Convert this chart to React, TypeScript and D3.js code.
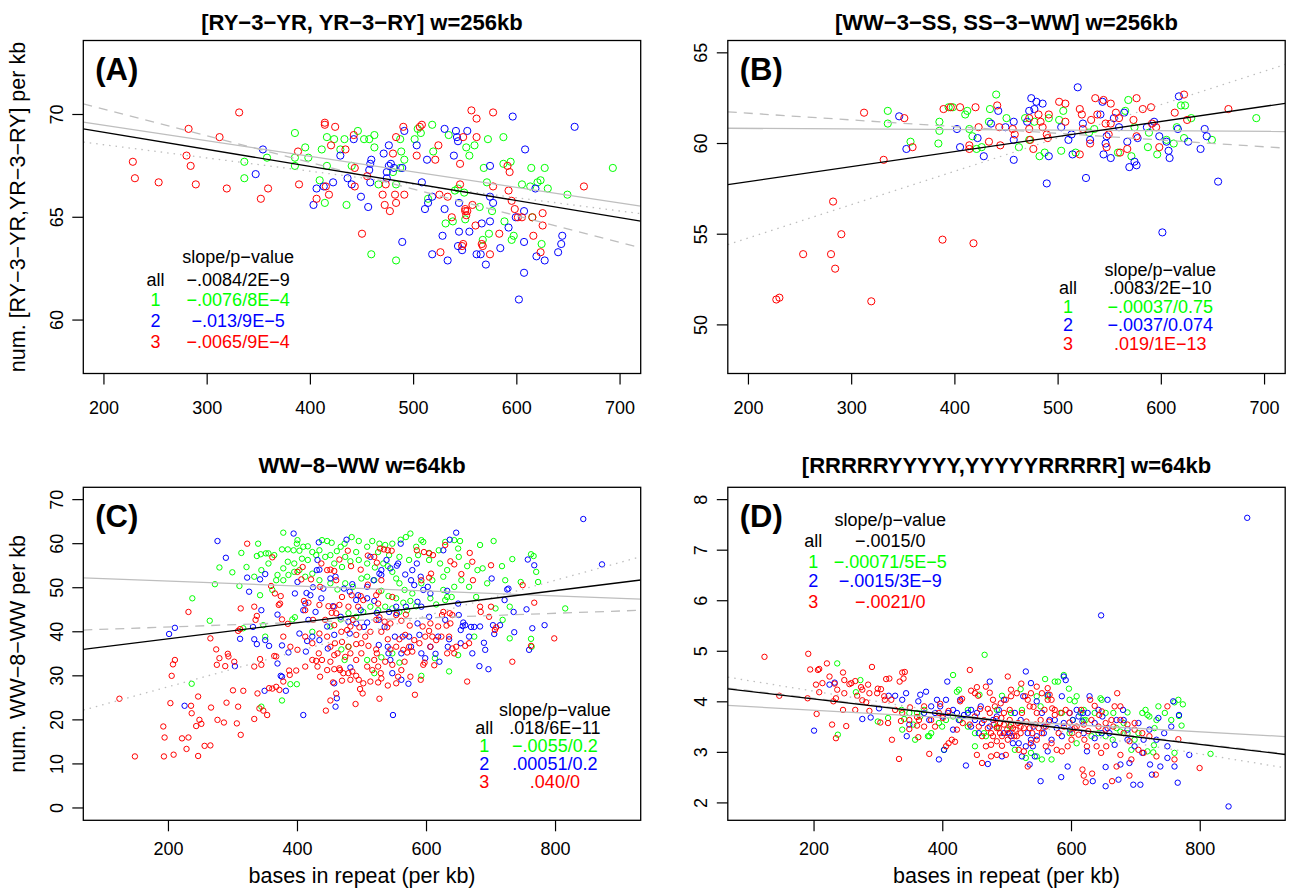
import React from 'react';
import * as d3 from 'd3';

type Pt = [number, number];

const RED = '#FF0000';
const GREEN = '#00FF00';
const BLUE = '#0000FF';
const GRAY = '#BEBEBE';
const FONT = '"Liberation Sans", Arial, Helvetica, sans-serif';

// ---------------- Panel A ----------------
const A_RED: Pt[] = [[228,67.7],[230,66.9],[253,66.7],[282,69.3],[280,68.0],[284,67.5],[289,66.6],[312,68.9],[319,66.4],[331,70.1],[352,65.9],[359,66.4],[389,66.6],[388,68.2],[406,65.9],[414,69.6],[414,69.5],[424,69.4],[420,68.5],[418,66.1],[415,66.5],[434,68.3],[442,69.0],[443,67.4],[455,67.0],[443,66.5],[450,64.2],[470,66.1],[472,65.6],[477,65.3],[482,66.1],[483,65.7],[473,66.6],[483,68.9],[490,69.4],[491,66.1],[480,68.1],[503,68.0],[506,69.4],[508,69.5],[521,67.8],[524,68.5],[526,63.3],[525,66.1],[533,66.0],[537,65.0],[545,67.6],[545,66.6],[548,68.9],[561,68.9],[550,65.4],[550,65.3],[551,65.1],[552,65.3],[557,65.6],[548,63.7],[547,63.6],[556,70.2],[561,69.8],[577,70.1],[577,66.5],[560,64.6],[566,63.7],[567,63.6],[574,63.2],[583,64.2],[591,67.5],[593,67.2],[592,66.3],[595,65.8],[598,65.4],[601,65.0],[605,65.0],[615,65.0],[616,64.1],[625,65.2],[625,64.6],[623,63.3],[665,66.5]];
const A_GREEN: Pt[] = [[336,67.7],[336,66.9],[358,67.9],[385,69.1],[385,67.5],[385,67.9],[395,68.4],[398,67.9],[411,68.3],[409,66.8],[414,65.7],[416,68.9],[416,67.5],[423,68.8],[429,68.3],[433,68.8],[435,65.6],[440,67.5],[446,69.2],[452,68.8],[457,68.8],[462,69.0],[462,68.4],[459,63.2],[466,66.6],[480,67.2],[483,62.9],[487,68.8],[488,68.2],[491,67.8],[487,67.4],[483,66.6],[501,68.8],[504,69.3],[507,69.1],[518,69.5],[519,68.2],[514,65.9],[534,69.0],[540,66.3],[543,66.4],[550,64.9],[549,66.2],[538,64.8],[551,68.4],[554,68.0],[559,68.5],[568,67.4],[571,66.7],[572,68.8],[564,65.5],[576,65.3],[573,64.2],[567,63.9],[587,68.9],[587,67.6],[594,67.7],[588,64.8],[597,64.1],[595,63.9],[605,66.6],[614,67.4],[613,66.5],[620,66.7],[623,66.8],[627,67.4],[630,66.4],[615,65.0],[624,63.7],[649,66.1],[693,67.4],[531,64.7]];
const A_BLUE: Pt[] = [[354,68.3],[347,67.1],[403,65.6],[406,66.4],[413,66.5],[422,66.7],[429,68.0],[436,66.9],[442,68.8],[440,66.6],[449,66.0],[456,65.5],[458,66.7],[459,67.8],[458,67.6],[457,67.3],[471,68.1],[476,68.5],[474,67.2],[476,67.5],[478,67.6],[474,66.9],[481,67.4],[489,67.4],[491,69.2],[489,63.8],[503,68.5],[508,66.7],[513,67.8],[511,65.4],[514,65.7],[518,66.0],[518,63.2],[528,64.1],[530,69.3],[530,65.4],[533,62.9],[539,68.0],[541,69.2],[542,68.9],[543,68.7],[552,69.2],[544,65.7],[544,64.3],[543,63.6],[554,64.3],[547,63.4],[561,63.2],[566,64.7],[565,63.2],[570,62.7],[574,64.8],[574,67.5],[574,66.0],[577,65.7],[584,63.5],[592,64.5],[596,69.9],[599,65.0],[607,65.3],[608,68.3],[607,63.8],[618,66.4],[619,63.1],[627,62.9],[607,62.3],[602,61.0],[640,63.3],[643,63.7],[644,64.1],[656,69.4]];
const A_X_TICKS = [200, 300, 400, 500, 600, 700];
const A_Y_TICKS = [60, 65, 70];
// fitted lines: [slope, intercept]
const A_FIT_ALL: Pt = [-0.0083, 70.79];
const A_FIT_1: Pt = [-0.00756, 70.99];
const A_FIT_2: Pt = [-0.01296, 72.85];
const A_FIT_3: Pt = [-0.00645, 69.82];
const A_LEGEND = ['−.0084/2E−9', '−.0076/8E−4', '−.013/9E−5', '−.0065/9E−4'];
const A_LEGEND_POS = [250, 330, 63.07, 61.94, 60.97, 59.95, 58.95];

// ---------------- Panel B ----------------
const B_RED: Pt[] = [[227,51.4],[230,51.5],[253,53.9],[280,53.9],[284,53.1],[282,56.8],[290,55.0],[319,51.3],[312,61.7],[331,59.1],[351,61.4],[359,59.8],[388,54.7],[418,54.5],[389,61.9],[396,62.0],[405,62.0],[420,62.0],[423,60.9],[414,59.9],[414,59.7],[433,60.1],[441,62.1],[443,60.9],[444,59.9],[456,60.8],[458,60.5],[472,61.4],[472,60.8],[473,60.2],[476,59.7],[481,61.6],[483,61.2],[485,60.9],[490,60.3],[489,60.5],[501,62.3],[507,62.2],[507,61.2],[521,61.9],[523,61.6],[524,60.8],[532,61.3],[536,62.5],[544,62.4],[551,62.2],[546,61.1],[549,60.5],[556,61.7],[559,61.4],[567,59.7],[560,59.5],[573,61.3],[576,62.5],[582,61.9],[576,60.4],[590,62.0],[591,61.1],[595,60.9],[598,59.8],[613,61.7],[622,62.7],[625,61.3],[665,61.9],[538,61.6],[551,61.1],[547,59.8],[531,60.0],[521,59.4],[491,61.6]];
const B_GREEN: Pt[] = [[335,61.8],[335,61.1],[357,60.1],[384,60.0],[385,60.7],[385,61.2],[394,62.0],[398,62.0],[410,61.6],[412,61.8],[414,60.8],[417,60.4],[421,59.7],[426,59.8],[434,61.9],[433,61.2],[440,62.7],[450,61.4],[462,59.8],[468,61.4],[477,61.2],[482,59.3],[491,61.4],[505,61.8],[503,59.6],[501,61.3],[517,59.5],[530,60.6],[535,60.8],[558,59.5],[565,61.8],[568,62.4],[571,59.3],[574,60.9],[587,59.8],[596,59.4],[588,60.6],[605,60.2],[612,60.0],[615,60.9],[619,62.1],[623,62.1],[622,60.3],[629,61.4],[649,60.2],[692,61.4],[487,59.5],[472,60.2]];
const B_BLUE: Pt[] = [[346,61.5],[353,59.7],[402,60.8],[405,59.8],[422,60.3],[428,59.3],[435,61.1],[442,61.8],[449,60.9],[457,59.1],[457,60.2],[457,61.2],[474,62.5],[479,62.3],[485,62.2],[477,61.9],[472,61.8],[470,61.2],[489,57.8],[491,59.3],[503,60.9],[510,60.2],[513,60.5],[514,59.4],[519,63.1],[527,58.1],[531,60.2],[541,61.6],[543,62.3],[544,59.4],[546,60.0],[551,59.2],[547,60.4],[554,61.4],[564,61.7],[567,60.1],[569,58.7],[574,59.0],[576,58.8],[577,60.3],[586,60.9],[593,61.2],[598,60.4],[607,59.6],[608,59.2],[605,60.1],[616,60.8],[617,62.6],[626,60.1],[638,59.7],[642,60.8],[644,60.4],[655,57.9],[601,55.1],[559,60.9],[524,61.1]];
const B_X_TICKS = [200, 300, 400, 500, 600, 700];
const B_Y_TICKS = [50, 55, 60, 65];
const B_FIT_ALL: Pt = [0.0083, 56.24];
const B_FIT_1: Pt = [-0.00033, 60.90];
const B_FIT_2: Pt = [-0.0037, 62.41];
const B_FIT_3: Pt = [0.0184, 51.11];
const B_LEGEND = ['.0083/2E−10', '−.00037/0.75', '−.0037/0.074', '.019/1E−13'];
const B_LEGEND_POS = [509.6, 599, 53.06, 52.05, 51.01, 50.0, 48.99];

// ---------------- Panel C ----------------
const C_RED: Pt[] = [[124,24.8],[148,11.7],[193,11.7],[194,16.0],[192,18.5],[208,12.1],[221,15.8],[231,16.0],[228,13.4],[246,11.8],[256,14.1],[265,14.2],[243,18.6],[248,20.0],[251,19.1],[236,21.5],[235,23.2],[246,25.3],[203,23.8],[205,30.0],[207,32.6],[210,33.6],[231,44.5],[265,38.5],[274,36.0],[279,34.0],[275,32.5],[288,32.2],[292,35.0],[302,33.2],[293,34.4],[266,22.8],[276,20.0],[286,19.4],[290,23.9],[306,19.2],[308,23.0],[312,16.6],[300,26.7],[316,26.6],[333,20.2],[338,26.0],[341,22.6],[347,22.1],[353,21.1],[356,27.2],[361,27.1],[372,26.8],[367,27.5],[333,32.1],[344,32.5],[342,33.8],[335,42.7],[337,43.6],[333,45.7],[312,45.3],[311,40.6],[322,60.0],[308,40.2],[364,34.5],[367,34.4],[387,31.2],[388,30.2],[398,31.2],[378,28.7],[371,46.1],[373,46.4],[376,42.8],[385,41.8],[374,48.1],[359,50.4],[361,56.9],[365,48.7],
[400,53.6],[406,51.9],[408,54.7],[421,51.9],[435,50.2],[437,55.5],[446,54.0],[451,54.1],[457,53.8],[460,51.7],[465,56.4],[478,58.4],[483,54.9],[498,54.1],[509,57.3],[519,57.0],[523,55.7],[528,58.9],[534,58.7],[540,58.5],[546,58.4],[530,51.7],[526,49.1],[522,48.3],[509,50.7],[498,48.1],[494,45.7],[484,48.3],[469,47.9],[465,46.1],[460,44.2],[453,44.3],[448,45.8],[434,46.1],[417,46.6],[410,47.0],[412,44.9],[424,42.7],[443,42.7],[457,41.5],[468,40.0],[477,40.4],[482,41.2],[486,42.7],[491,39.3],[496,41.0],[505,38.9],[513,40.0],[522,42.7],[527,43.3],[535,42.3],[539,41.0],[544,41.9],[553,43.8],[561,42.5],[568,43.9],[574,41.4],[567,39.3],[558,38.3],[553,36.6],[544,36.0],[540,38.3],[530,40.0],[522,36.0],[523,35.1],[519,33.6],[510,36.8],[499,37.4],[491,37.2],[479,36.6],[469,37.7],[458,37.4],[457,34.7],[451,33.2],[438,33.6],[433,35.1],[429,33.4],[431,32.1],[435,29.8],[446,31.3],[457,31.5],[466,31.3],[469,28.9],[479,30.6],[485,31.0],[491,30.0],[495,29.1],[497,27.0],[501,26.0],[490,23.6],[460,26.0],[451,24.4],[444,22.1],[455,28.5],[465,31.7],[471,30.6],[513,28.7],[525,28.5],[529,30.6],[540,27.8],[527,24.8],[561,31.3],[566,33.2],[570,35.3],[578,35.5],[582,25.7],[591,29.1],[595,32.5],[597,33.0],[612,32.4],[609,38.9],[604,40.2],[594,41.2],[606,41.9],[618,41.2],[624,43.8],[626,44.5],[636,44.2],[640,43.8],[637,41.9],[643,35.1],[640,36.2],[646,36.6],[660,36.8],[666,37.4],[635,38.9],[631,41.4],[604,52.3],[607,53.2],[592,51.7],[585,58.5],[596,58.1],[604,57.8],[610,57.4],[637,56.0],[629,59.7],[643,55.3],[667,57.9],[671,55.9],[672,51.7],[654,53.1],[683,45.7],[684,44.5],[700,45.7],[697,43.4],[700,55.1],[706,40.4],[708,41.0],[733,33.2],[749,50.6],[762,36.8],[767,46.6],[798,38.5],[663,28.7],
[412,38.9],[423,37.4],[434,39.6],[446,38.9],[451,36.6],[462,35.1],[474,34.3],[482,35.1],[491,33.6],[499,35.1],[508,32.1],[516,31.3],[525,32.1],[536,33.2],[547,32.5],[556,29.8],[564,35.9],[573,36.6],[581,38.1],[589,37.4],[598,38.9],[606,36.6],[615,38.1],[623,38.9],[632,35.1],[482,29.1],[502,28.3],[530,29.4],[553,28.3],[575,29.8],[423,33.6],[412,32.1],[400,35.9],[389,36.6],[378,38.9],[457,45.7],[479,45.7],[502,47.2],[525,46.4],[547,47.9]];
const C_GREEN: Pt[] = [[237,47.6],[264,42.5],[272,50.8],[279,54.6],[299,53.5],[310,50.4],[313,57.9],[339,60.0],[337,57.2],[343,57.6],[351,57.8],[355,57.8],[364,57.4],[378,62.5],[376,58.7],[385,58.7],[394,58.5],[399,60.0],[403,58.4],[416,59.4],[438,60.8],[446,60.6],[453,60.2],[461,58.3],[467,59.3],[473,60.0],[484,61.5],[495,60.6],[516,60.6],[527,60.0],[536,59.7],[547,60.0],[560,60.9],[568,61.5],[575,62.3],[584,59.3],[592,60.8],[595,60.4],[604,57.9],[619,58.5],[629,60.4],[643,60.8],[652,60.6],[649,58.9],[650,57.0],[663,54.9],[683,59.7],[704,60.6],[679,54.0],[687,54.4],[717,54.9],[733,56.5],[746,51.3],[762,57.6],[766,57.2],[770,53.6],[773,51.3],[815,45.3],[762,38.4],[763,36.6],[729,38.5],[718,42.7],[722,51.7],[707,45.3],[729,45.7],[677,47.9],[674,38.9],[643,50.2],[639,47.9],[629,47.2],[626,49.5],[615,46.2],[606,47.6],[592,51.0],[578,48.7],[566,49.5],[558,51.0],[553,52.1],[547,53.6],[540,54.9],[533,55.5],[520,54.6],[508,55.5],[495,56.3],[482,56.0],[469,54.7],[457,55.5],[443,57.0],[429,57.4],[416,56.3],[407,56.6],[395,55.5],[385,55.9],[378,54.4],[369,52.9],[367,51.7],[378,51.7],[386,52.9],[395,53.6],[403,54.0],[412,52.5],[423,53.2],[434,51.7],[451,51.0],[462,49.6],[474,51.0],[486,50.2],[499,52.1],[508,52.5],[519,51.7],[530,49.3],[541,48.1],[553,47.6],[564,46.6],[575,47.0],[584,45.8],[570,44.9],[558,44.5],[547,45.3],[536,45.7],[525,44.9],[513,45.7],[502,44.5],[491,43.4],[479,44.2],[467,42.8],[451,41.2],[423,40.0],[396,43.3],[392,42.8],[347,41.5],[316,40.8],[350,38.9],[361,49.5],[342,48.3],[468,36.0],[479,36.6],[508,33.6],[530,34.2],[547,35.1],[558,33.0],[592,30.0],[613,34.0],[635,31.0],[519,30.6],[473,33.6],[376,24.4],[389,28.1],[399,28.1],[344,23.0],[236,28.2],[649,34.7],[632,47.9],
[400,60.8],[409,59.3],[423,58.1],[434,58.5],[451,57.4],[474,57.0],[491,58.1],[508,59.3],[525,58.1],[542,57.4],[558,57.0],[573,56.3],[587,57.4],[604,56.3],[621,55.5],[632,54.0],[654,51.7],[666,50.2],[694,51.0],[626,52.5],[609,51.7],[355,55.5],[344,54.0],[333,52.5],[321,54.7]];
const C_BLUE: Pt[] = [[201,39.5],[210,40.9],[225,23.2],[276,60.6],[289,56.8],[303,32.2],[311,38.4],[322,52.3],[325,49.1],[331,41.1],[333,38.3],[337,37.2],[342,51.9],[350,53.1],[344,44.9],[350,38.1],[356,36.8],[369,43.9],[369,32.8],[376,36.9],[374,30.0],[376,29.8],[386,35.3],[382,26.6],[349,26.6],[394,62.3],[396,48.7],[400,51.3],[403,39.6],[409,44.9],[412,46.4],[413,35.5],[415,37.9],[417,42.7],[420,48.3],[424,50.1],[428,44.5],[431,56.3],[430,54.0],[433,60.3],[437,47.6],[440,49.8],[446,41.2],[447,36.2],[451,52.1],[455,45.8],[457,28.3],[461,24.9],[459,23.0],[467,43.4],[472,49.8],[476,60.9],[479,42.3],[482,31.9],[485,50.8],[491,47.2],[498,44.9],[503,41.1],[508,50.2],[513,57.0],[519,47.0],[523,44.3],[526,37.0],[527,53.2],[530,52.9],[535,41.1],[538,56.3],[541,35.1],[544,33.6],[547,30.6],[548,21.1],[553,45.7],[556,55.5],[560,60.0],[563,38.9],[561,29.1],[572,28.2],[576,51.7],[581,50.6],[585,55.5],[589,39.3],[592,45.7],[598,34.0],[602,50.2],[606,48.7],[614,35.0],[620,33.2],[626,58.5],[633,36.6],[635,38.3],[636,60.9],[646,62.5],[649,46.4],[650,43.8],[653,40.4],[656,41.3],[657,42.1],[660,41.5],[666,38.9],[669,41.1],[674,41.1],[671,35.1],[682,32.2],[689,37.5],[691,35.9],[696,31.5],[701,52.1],[703,41.5],[705,39.5],[714,41.5],[721,47.2],[725,49.6],[727,49.8],[735,44.5],[736,39.9],[755,45.1],[757,56.4],[759,35.9],[764,40.8],[767,55.1],[783,41.5],[843,65.6],[872,55.3],[409,21.1],[632,49.3],
[414,48.8],[434,54.1],[459,52.5],[481,49.1],[494,48.3],[508,47.6],[518,51.7],[530,54.0],[544,54.4],[554,55.0],[567,53.0],[578,54.0],[591,52.5],[595,49.5],[586,46.8],[568,45.7],[554,44.2],[542,44.5],[526,42.7],[508,42.1],[491,41.9],[481,39.6],[457,39.3],[434,38.1],[423,38.9],[573,38.9],[586,41.9],[604,43.4],[618,38.9],[629,42.7],[551,38.9],[540,36.6],[561,35.1],[576,36.6],[592,35.1],[606,36.6],[653,37.4],[683,41.2]];
const C_X_TICKS = [200, 400, 600, 800];
const C_Y_TICKS = [0, 10, 20, 30, 40, 50, 60, 70];
const C_FIT_ALL: Pt = [0.0182, 34.79];
const C_FIT_1: Pt = [-0.0056, 52.63];
const C_FIT_2: Pt = [0.0052, 40.04];
const C_FIT_3: Pt = [0.0403, 19.47];
const C_LEGEND = ['.018/6E−11', '−.0055/0.2', '.00051/0.2', '.040/0'];
const C_LEGEND_POS = [689.4, 799, 22.26, 18.11, 14.07, 9.97, 6.03];

// ---------------- Panel D ----------------
const D_RED: Pt[] = [[123,4.89],[146,4.12],[191,4.95],[194,4.64],[206,4.63],[208,4.65],[203,4.34],[208,4.19],[220,4.76],[232,4.36],[234,4.07],[230,4.01],[204,3.76],[190,4.07],[228,3.55],[234,3.28],[250,3.52],[245,4.58],[247,4.43],[255,4.35],[264,4.41],[267,4.12],[273,4.29],[275,4.03],[281,3.99],[284,4.34],[290,4.69],[299,4.26],[304,4.25],[312,4.45],[317,4.46],[310,4.04],[286,3.82],[264,3.84],[245,3.84],[303,3.59],[315,3.58],[321,3.25],[332,2.87],[333,4.40],[337,4.58],[341,4.59],[339,4.46],[349,3.89],[335,3.62],[348,3.46],[360,3.53],[362,3.30],[360,3.70],[371,3.91],[379,2.97],[388,3.51],[396,3.96],[400,3.68],[405,3.12],[409,3.18],[409,3.82],[430,4.06],[427,4.01],[442,4.63],[444,4.22],[450,4.17],[453,4.29],[455,4.12],[467,4.30],[473,4.18],[478,4.04],[470,3.86],[458,3.86],[450,3.71],[442,3.55],[431,3.58],[422,3.45],[414,3.25],[419,3.21],[453,2.95],[461,2.79],[475,2.92],[484,2.95],[492,3.13],[498,2.95],[501,4.50],[506,4.11],[504,3.84],[495,3.78],[489,3.58],[484,3.48],[478,3.32],[489,3.38],[501,3.38],[509,3.48],[515,3.32],[521,3.51],[523,3.78],[522,4.36],[532,4.04],[535,3.91],[541,3.90],[546,3.78],[552,3.64],[558,3.84],[563,4.04],[566,4.14],[570,3.87],[574,3.74],[580,3.38],[588,3.51],[597,3.59],[601,3.38],[605,3.48],[611,3.35],[615,3.84],[620,3.25],[626,3.42],[629,4.04],[636,3.92],[643,3.74],[647,3.81],[653,3.58],[662,3.64],[667,3.91],[671,4.17],[676,3.91],[681,3.38],[690,3.22],[698,3.58],[704,3.05],[712,2.99],[721,3.32],[732,2.92],[731,2.56],[749,3.91],[766,3.26],[760,2.86],[799,2.69],[690,2.54],[663,2.43],[632,2.58],[622,2.41],[617,2.66],[619,2.54],[594,3.12],[585,3.02],[577,3.05],[569,3.18],[560,3.12],[546,3.25],[537,3.18],[532,2.72],[526,3.02],[518,3.05],[511,3.32],[639,3.12],[646,2.99],[654,3.12],[670,2.72],[693,2.86],[676,2.95],[624,3.12],[600,3.25],
[470,3.48],[475,3.38],[479,3.55],[483,3.66],[487,3.48],[491,3.68],[495,3.55],[500,3.45],[504,3.64],[506,3.55],[513,3.45],[517,3.58],[521,3.38],[526,3.48],[530,3.61],[535,3.48],[539,3.38],[544,3.55],[549,3.48],[554,3.38],[560,3.51],[565,3.61],[484,3.22],[492,3.32],[501,3.25],[475,3.15],[467,3.12],[461,3.32],[456,3.51],[464,3.64],[473,3.78],[481,3.91],[490,3.97],[498,4.04],[506,4.24],[515,4.17],[528,4.11],[537,4.17],[546,4.30],[554,4.17],[563,4.27],[569,4.04],[574,3.84],[583,3.78],[591,3.84],[597,3.78],[608,3.51],[619,3.55],[631,3.64],[642,3.51],[653,3.45],[665,3.51],[676,3.64],[687,3.55],[698,3.45],[710,3.38],[394,3.78],[382,3.64],[371,3.51],[363,3.64],[348,3.64],[337,3.78],[326,3.84],[320,4.04],[309,4.11],[298,4.17],[286,4.17],[275,4.24],[258,4.37],[247,4.17],[236,4.24],[224,4.50],[213,4.37]];
const D_GREEN: Pt[] = [[236,4.76],[237,3.35],[272,4.43],[265,4.19],[299,3.61],[315,3.68],[336,3.84],[340,3.66],[348,3.78],[337,3.45],[357,3.25],[377,3.32],[382,3.38],[399,3.51],[416,4.53],[425,4.24],[427,3.64],[439,3.84],[450,3.12],[457,4.14],[464,3.38],[484,3.84],[492,4.12],[504,3.51],[512,3.05],[521,4.25],[529,2.89],[537,2.99],[546,4.11],[554,2.86],[559,4.45],[563,4.11],[574,4.40],[579,4.40],[588,4.53],[596,4.26],[602,3.64],[605,4.01],[608,3.18],[614,3.78],[622,3.64],[631,3.32],[636,3.78],[645,4.07],[647,4.04],[653,3.78],[664,3.25],[670,3.48],[676,3.41],[681,3.58],[687,3.79],[693,3.05],[698,3.25],[704,3.38],[718,3.74],[721,3.71],[727,3.00],[729,3.48],[735,3.91],[718,3.02],[745,3.78],[760,2.99],[767,3.72],[771,3.53],[773,3.95],[760,3.99],[816,2.97],[728,3.14],[569,2.86],[546,2.92],[402,3.05],[379,3.32],[365,3.71],[354,3.55],[422,4.20],[619,3.64],[653,3.32],[465,4.93],
[360,3.78],[371,3.84],[394,3.58],[405,3.64],[416,3.71],[439,3.51],[450,3.38],[467,3.32],[484,3.51],[506,3.78],[523,3.84],[552,3.91],[585,3.78],[597,3.38],[619,3.84],[642,3.38],[665,3.78],[687,3.38],[710,3.78],[732,3.64],[755,3.64],[766,4.04],[715,3.84],[608,4.11],[597,4.04]];
const D_BLUE: Pt[] = [[200,3.43],[224,4.34],[232,4.38],[275,3.66],[288,3.69],[301,3.87],[316,4.12],[326,4.12],[337,4.04],[343,4.17],[344,3.32],[348,3.55],[362,4.01],[365,4.14],[374,4.20],[382,3.91],[391,4.04],[394,2.86],[407,4.40],[400,3.71],[408,3.78],[402,3.05],[416,3.45],[422,3.78],[427,4.04],[436,2.74],[439,3.78],[444,3.51],[450,3.64],[456,3.38],[459,3.91],[470,2.77],[473,4.40],[478,3.64],[487,3.84],[492,2.92],[495,4.04],[504,3.38],[509,3.18],[512,3.78],[521,3.64],[525,4.11],[529,4.60],[532,3.38],[535,2.76],[537,4.37],[541,3.51],[546,4.01],[552,2.43],[554,3.78],[557,3.38],[563,4.14],[569,3.25],[574,3.64],[584,2.51],[585,4.11],[588,4.50],[591,4.43],[594,2.72],[598,3.45],[602,3.64],[611,3.71],[618,3.78],[624,3.02],[628,4.11],[633,2.43],[636,3.28],[642,3.84],[647,3.38],[653,2.33],[653,2.71],[656,4.04],[659,3.38],[667,3.15],[673,2.46],[676,2.76],[680,3.84],[681,3.64],[687,3.25],[690,2.79],[696,2.36],[698,3.12],[707,2.36],[710,2.99],[712,3.25],[722,2.76],[725,2.56],[732,3.25],[735,3.68],[738,2.72],[749,2.89],[755,3.51],[758,4.01],[760,2.72],[765,2.40],[783,2.95],[767,3.74],[873,7.64],[646,5.71],[844,1.93],[749,3.12],[585,3.32],[540,3.12],[619,3.38],
[371,3.78],[379,3.64],[388,3.78],[396,3.91],[405,4.04],[416,3.84],[425,3.64],[433,3.74],[444,3.84],[453,3.78],[461,3.58],[473,3.51],[484,3.71],[495,3.38],[506,3.32],[518,3.18],[529,3.12],[537,3.25],[546,3.32],[557,3.51],[566,3.64],[577,3.48],[588,3.58],[597,3.78],[608,3.84],[617,3.61],[625,3.78],[636,3.58],[648,3.71],[656,3.48],[670,3.64],[687,3.45],[704,3.58],[721,3.45],[744,3.38],[523,2.92],[543,2.92],[563,3.02]];
const D_X_TICKS = [200, 400, 600, 800];
const D_Y_TICKS = [2, 3, 4, 5, 6, 7, 8];
const D_FIT_ALL: Pt = [-0.0015, 4.356];
const D_FIT_1: Pt = [-0.00071, 3.975];
const D_FIT_2: Pt = [-0.0015, 4.37];
const D_FIT_3: Pt = [-0.00207, 4.624];
const D_LEGEND = ['−.0015/0', '−.00071/5E−5', '−.0015/3E−9', '−.0021/0'];
const D_LEGEND_POS = [198.8, 318.5, 7.61, 7.18, 6.78, 6.40, 5.98];

// ---------------- layout ----------------
const COL_W = 644.5;
const ROW_H = 446.8;
const BOX_L = 83.3;
const BOX_W = 557.4;
const BOX_T = 40.5;
const BOX_H = 333;
const TICK_LABEL_DY = [40, 34.5];
const TITLE_DY = [10.5, 14];

interface PanelSpec {
  id: string;
  tag: string;
  title: string;
  ylab?: string;
  xlab?: string;
  col: number;
  row: number;
  xDomain: [number, number];
  yDomain: [number, number];
  xTicks: number[];
  yTicks: number[];
  green: Pt[];
  blue: Pt[];
  red: Pt[];
  fits: Pt[];
  legend: string[];
  legendPos: number[];
  r: number;
}

const PANELS: PanelSpec[] = [
  { id: 'a', tag: '(A)', title: '[RY−3−YR, YR−3−RY] w=256kb', ylab: 'num. [RY−3−YR,YR−3−RY] per kb', col: 0, row: 0,
    xDomain: [180, 720], yDomain: [57.4, 73.6], xTicks: A_X_TICKS, yTicks: A_Y_TICKS,
    green: A_GREEN, blue: A_BLUE, red: A_RED, fits: [A_FIT_ALL, A_FIT_1, A_FIT_2, A_FIT_3], legend: A_LEGEND, legendPos: A_LEGEND_POS, r: 3.6 },
  { id: 'b', tag: '(B)', title: '[WW−3−SS, SS−3−WW] w=256kb', col: 1, row: 0,
    xDomain: [180, 720], yDomain: [47.32, 65.68], xTicks: B_X_TICKS, yTicks: B_Y_TICKS,
    green: B_GREEN, blue: B_BLUE, red: B_RED, fits: [B_FIT_ALL, B_FIT_1, B_FIT_2, B_FIT_3], legend: B_LEGEND, legendPos: B_LEGEND_POS, r: 3.6 },
  { id: 'c', tag: '(C)', title: 'WW−8−WW w=64kb', ylab: 'num. WW−8−WW per kb', xlab: 'bases in repeat (per kb)', col: 0, row: 1,
    xDomain: [68, 932], yDomain: [-2.8, 72.8], xTicks: C_X_TICKS, yTicks: C_Y_TICKS,
    green: C_GREEN, blue: C_BLUE, red: C_RED, fits: [C_FIT_ALL, C_FIT_1, C_FIT_2, C_FIT_3], legend: C_LEGEND, legendPos: C_LEGEND_POS, r: 2.7 },
  { id: 'd', tag: '(D)', title: '[RRRRRYYYYY,YYYYYRRRRR] w=64kb', xlab: 'bases in repeat (per kb)', col: 1, row: 1,
    xDomain: [66, 932], yDomain: [1.656, 8.244], xTicks: D_X_TICKS, yTicks: D_Y_TICKS,
    green: D_GREEN, blue: D_BLUE, red: D_RED, fits: [D_FIT_ALL, D_FIT_1, D_FIT_2, D_FIT_3], legend: D_LEGEND, legendPos: D_LEGEND_POS, r: 2.7 },
];

const FIT_STYLES = [
  { stroke: '#000000', dash: undefined as string | undefined, width: 1.3 },
  { stroke: GRAY, dash: undefined as string | undefined, width: 1.3 },
  { stroke: GRAY, dash: '9,7', width: 1.3 },
  { stroke: GRAY, dash: '1.5,5', width: 1.3 },
];
const LEGEND_COLORS = ['#000000', GREEN, BLUE, RED];
const LEGEND_LABELS = ['all', '1', '2', '3'];

function Panel({ p }: { p: PanelSpec }) {
  const x0 = BOX_L + p.col * COL_W;
  const y0 = BOX_T + p.row * ROW_H;
  const xs = d3.scaleLinear().domain(p.xDomain).range([x0, x0 + BOX_W]);
  const ys = d3.scaleLinear().domain(p.yDomain).range([y0 + BOX_H, y0]);
  const clipId = `clip-${p.id}`;
  const groups: [Pt[], string][] = [[p.green, GREEN], [p.blue, BLUE], [p.red, RED]];
  const drawOrder = [1, 2, 3, 0];
  return (
    <g>
      <defs>
        <clipPath id={clipId}>
          <rect x={x0} y={y0} width={BOX_W} height={BOX_H} />
        </clipPath>
      </defs>
      <g clipPath={`url(#${clipId})`}>
        {groups.map(([pts, color], gi) =>
          pts.map((d, i) => (
            <circle key={`${gi}-${i}`} cx={xs(d[0])} cy={ys(d[1])} r={p.r} fill="none" stroke={color} strokeWidth={1} />
          ))
        )}
        {drawOrder.map((k) => {
          const [b, a] = p.fits[k];
          const st = FIT_STYLES[k];
          const [xa, xb] = p.xDomain;
          return (
            <line key={`fit-${k}`} x1={xs(xa)} y1={ys(a + b * xa)} x2={xs(xb)} y2={ys(a + b * xb)}
              stroke={st.stroke} strokeWidth={st.width} strokeDasharray={st.dash} />
          );
        })}
      </g>
      <rect x={x0} y={y0} width={BOX_W} height={BOX_H} fill="none" stroke="#000" strokeWidth={1.3} />
      {p.xTicks.map((t) => (
        <g key={`xt-${t}`}>
          <line x1={xs(t)} x2={xs(t)} y1={y0 + BOX_H} y2={y0 + BOX_H + 11} stroke="#000" strokeWidth={1.2} />
          <text x={xs(t)} y={y0 + BOX_H + TICK_LABEL_DY[p.row]} textAnchor="middle" fontSize={18} fontFamily={FONT}>{t}</text>
        </g>
      ))}
      {p.yTicks.map((t) => (
        <g key={`yt-${t}`}>
          <line x1={x0 - 11} x2={x0} y1={ys(t)} y2={ys(t)} stroke="#000" strokeWidth={1.2} />
          <text transform={`translate(${x0 - 20.5},${ys(t)}) rotate(-90)`} textAnchor="middle" fontSize={18} fontFamily={FONT}>{t}</text>
        </g>
      ))}
      <text x={x0 + BOX_W / 2} y={y0 - TITLE_DY[p.row]} textAnchor="middle" fontSize={22} fontWeight="bold" fontFamily={FONT}>{p.title}</text>
      {p.ylab && (
        <text transform={`translate(${x0 - 58},${y0 + BOX_H / 2}) rotate(-90)`} textAnchor="middle" fontSize={21.5} fontFamily={FONT}>{p.ylab}</text>
      )}
      {p.xlab && (
        <text x={x0 + BOX_W / 2} y={y0 + BOX_H + 62.6} textAnchor="middle" fontSize={21.5} fontFamily={FONT}>{p.xlab}</text>
      )}
      <text x={x0 + 12} y={y0 + 39.4} fontSize={31} fontWeight="bold" fontFamily={FONT}>{p.tag}</text>
      <text x={xs(p.legendPos[1])} y={ys(p.legendPos[2])} dy="0.35em" textAnchor="middle" fontSize={18} fontFamily={FONT}>slope/p−value</text>
      {p.legend.map((v, i) => (
        <g key={`lg-${i}`} fill={LEGEND_COLORS[i]}>
          <text x={xs(p.legendPos[0])} y={ys(p.legendPos[3 + i])} dy="0.35em" textAnchor="middle" fontSize={18} fontFamily={FONT}>{LEGEND_LABELS[i]}</text>
          <text x={xs(p.legendPos[1])} y={ys(p.legendPos[3 + i])} dy="0.35em" textAnchor="middle" fontSize={18} fontFamily={FONT}>{v}</text>
        </g>
      ))}
    </g>
  );
}

export default function App() {
  return (
    <svg width={1289} height={891} style={{ position: 'absolute', left: 0, top: 0, background: '#fff' }}>
      <rect x={0} y={0} width={1289} height={891} fill="#fff" />
      {PANELS.map((p) => (
        <Panel key={p.id} p={p} />
      ))}
    </svg>
  );
}
